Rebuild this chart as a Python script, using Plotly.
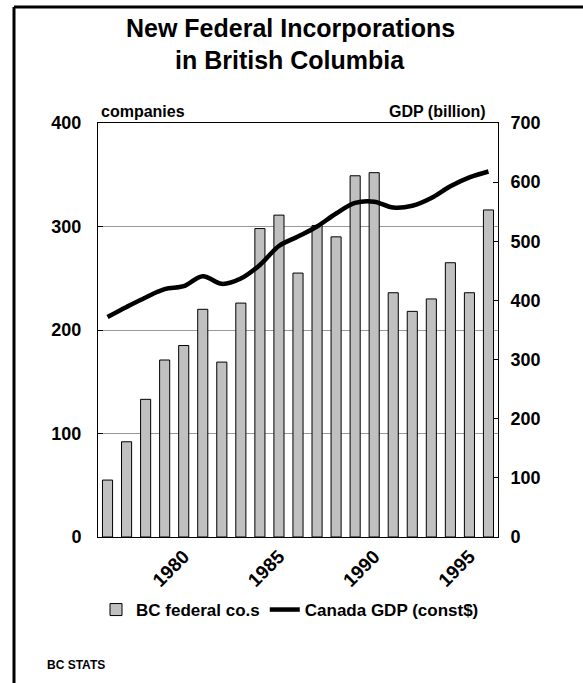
import plotly.graph_objects as go

years = list(range(1976, 1997))
companies = [55, 92, 133, 171, 185, 220, 169, 226, 298, 311, 255,
             301, 290, 349, 352, 236, 218, 230, 265, 236, 316]
gdp = [372, 389, 405, 419, 424, 441, 428, 437, 460, 492, 508,
       525, 547, 565, 567, 557, 560, 573, 593, 608, 618]
xticks = [1980, 1985, 1990, 1995]

FONT = "Liberation Sans, Arial, sans-serif"
L, R, T, B = 98, 85, 123, 146
W, H = 583, 683
pw, ph = W - L - R, H - T - B


def px(x):
    return (x - L) / pw


def py(y):
    return (H - B - y) / ph


fig = go.Figure()
fig.add_trace(go.Bar(
    x=years, y=companies, name="BC federal co.s",
    marker=dict(color="#c0c0c0", line=dict(color="black", width=1)),
    yaxis="y",
))
fig.add_trace(go.Scatter(
    x=years, y=gdp, name="Canada GDP (const$)", mode="lines",
    line=dict(color="black", width=4.5, shape="spline", smoothing=1.0),
    yaxis="y2",
))

ytickfont = dict(family=FONT, size=18, color="black", weight="bold")
xtickfont = dict(family=FONT, size=19, color="black", weight="bold")

fig.update_layout(
    width=W, height=H,
    margin=dict(l=L, r=R, t=T, b=B, pad=0),
    paper_bgcolor="white", plot_bgcolor="white",
    bargap=0.47,
    showlegend=True,
    legend=dict(orientation="h", x=px(290), xanchor="center",
                y=py(610), yanchor="middle",
                font=dict(family=FONT, size=17, color="black", weight="bold"),
                itemwidth=30, tracegroupgap=0, bgcolor="rgba(0,0,0,0)"),
    xaxis=dict(range=[1975.5, 1996.5], tickvals=xticks,
               ticktext=[str(v) for v in xticks], tickangle=-45,
               tickfont=xtickfont, showgrid=False, zeroline=False,
               showline=True, linecolor="black", linewidth=1, mirror=True,
               ticks=""),
    yaxis=dict(range=[0, 400], dtick=100, tickfont=ytickfont,
               showgrid=True, gridcolor="#999999", gridwidth=1,
               zeroline=False, showline=True, linecolor="black",
               linewidth=1, ticks="inside", ticklen=5, tickcolor="black",
               ticklabelstandoff=12),
    yaxis2=dict(range=[0, 700], dtick=100, tickfont=ytickfont,
                overlaying="y", side="right", showgrid=False,
                zeroline=False, showline=True, linecolor="black",
                linewidth=1, ticks="inside", ticklen=5, tickcolor="black",
                ticklabelstandoff=8),
    annotations=[
        dict(text="New Federal Incorporations", x=px(290), y=py(28),
             xref="paper", yref="paper", showarrow=False,
             xanchor="center", yanchor="middle",
             font=dict(family=FONT, size=25, color="black", weight="bold")),
        dict(text="in British Columbia", x=px(290), y=py(60),
             xref="paper", yref="paper", showarrow=False,
             xanchor="center", yanchor="middle",
             font=dict(family=FONT, size=25, color="black", weight="bold")),
        dict(text="companies", x=px(99), y=py(111),
             xref="paper", yref="paper", showarrow=False,
             xanchor="left", yanchor="middle",
             font=dict(family=FONT, size=16, color="black", weight="bold")),
        dict(text="GDP (billion)", x=px(488), y=py(111),
             xref="paper", yref="paper", showarrow=False,
             xanchor="right", yanchor="middle",
             font=dict(family=FONT, size=16, color="black", weight="bold")),
        dict(text="BC STATS", x=px(45), y=py(665),
             xref="paper", yref="paper", showarrow=False,
             xanchor="left", yanchor="middle",
             font=dict(family=FONT, size=12, color="black", weight="bold")),
    ],
    shapes=[
        dict(type="line", xref="paper", yref="paper",
             x0=px(14), y0=py(7), x1=px(600), y1=py(7),
             line=dict(color="black", width=3)),
        dict(type="line", xref="paper", yref="paper",
             x0=px(14), y0=py(7), x1=px(14), y1=py(700),
             line=dict(color="black", width=3)),
    ],
)

fig.write_html("out.html")
